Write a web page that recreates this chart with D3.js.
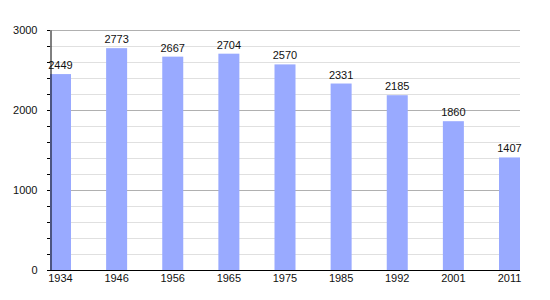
<!DOCTYPE html>
<html><head><meta charset="utf-8">
<script src="https://cdn.jsdelivr.net/npm/d3@7"></script>
<style>body{margin:0;background:#fff}svg{display:block}text{font-family:"Liberation Sans",Arial,sans-serif}</style>
</head><body><svg id="c" width="550" height="300"></svg>
<script>
const years = ["1934","1946","1956","1965","1975","1985","1992","2001","2011"];
const population = [2449,2773,2667,2704,2570,2331,2185,1860,1407];
const yTicks = [0,1000,2000,3000];

(function(){
const svg = d3.select("#c");
const mLeft = 50, mRight = 520, mTop = 30, mBottom = 270;
const y = d3.scaleLinear().domain([0,3000]).range([mBottom, mTop]);
const barW = 21;
const x = d3.scalePoint().domain(years).range([mLeft, mRight - barW]);

const minor = d3.range(200, 3001, 200).filter(v => v % 1000 !== 0);
svg.append("g").selectAll("line").data(minor).join("line")
  .attr("x1", mLeft).attr("x2", mRight)
  .attr("y1", d => y(d)+0.5).attr("y2", d => y(d)+0.5)
  .attr("stroke", "#e0e0e0");
svg.append("g").selectAll("line").data(yTicks.filter(d=>d>0)).join("line")
  .attr("x1", mLeft).attr("x2", mRight)
  .attr("y1", d => y(d)+0.5).attr("y2", d => y(d)+0.5)
  .attr("stroke", "#b0b0b0");

svg.append("g").selectAll("rect").data(population).join("rect")
  .attr("x", (d,i) => x(years[i])).attr("width", barW)
  .attr("y", d => y(d)).attr("height", d => mBottom - y(d))
  .attr("fill", "#99aaff");

svg.append("g").selectAll("text").data(population).join("text")
  .attr("x", (d,i) => x(years[i]) + barW/2).attr("y", d => y(d) - 5)
  .attr("text-anchor", "middle").attr("font-size", 11).attr("fill", "#111")
  .text(d => d);

const yAxis = d3.axisLeft(y).tickValues(yTicks).tickSize(0).tickPadding(13).tickFormat(d3.format("d"));
const gy = svg.append("g").attr("transform", `translate(${mLeft+0.5},0)`).call(yAxis);
gy.select(".domain").attr("stroke", "#000");
gy.selectAll("text").attr("font-size", 11).attr("fill", "#111").style("font-family", "Liberation Sans, Arial, sans-serif");
svg.append("g").selectAll("line").data(minor.concat(yTicks)).join("line")
  .attr("x1", mLeft-3).attr("x2", mLeft)
  .attr("y1", d => y(d)+0.5).attr("y2", d => y(d)+0.5)
  .attr("stroke", "#000");

svg.append("line").attr("x1", mLeft).attr("x2", mRight).attr("y1", mBottom+0.5).attr("y2", mBottom+0.5).attr("stroke", "#000");
svg.append("g").selectAll("text").data(years).join("text")
  .attr("x", d => x(d) + barW/2).attr("y", mBottom + 12)
  .attr("text-anchor", "middle").attr("font-size", 11).attr("fill", "#111")
  .text(d => d);
})();
</script></body></html>
